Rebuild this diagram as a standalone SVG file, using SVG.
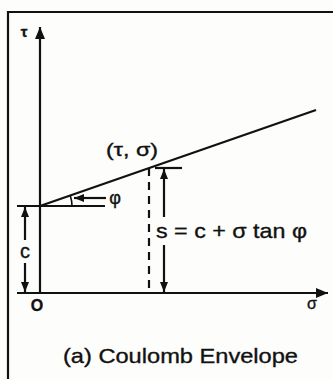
<svg xmlns="http://www.w3.org/2000/svg" width="333" height="379" viewBox="0 0 333 379">
  <style>
    .ln { stroke: #111; stroke-width: 2.2; fill: none; }
    .thin { stroke: #111; stroke-width: 1.6; fill: none; }
    .txt { font-family: "Liberation Sans", Arial, sans-serif; fill: #111; stroke: #111; stroke-width: 0.35; }
  </style>
  <defs>
    <marker id="ah" viewBox="0 0 10 8" refX="10" refY="4" markerWidth="10" markerHeight="8" markerUnits="userSpaceOnUse" orient="auto">
      <path d="M0,0 L10,4 L0,8 Z" fill="#111"/>
    </marker>
    <marker id="ahBig" viewBox="0 0 12 10" refX="12" refY="5" markerWidth="12" markerHeight="10" markerUnits="userSpaceOnUse" orient="auto">
      <path d="M0,0 L12,5 L0,10 Z" fill="#111"/>
    </marker>
  </defs>
  <rect width="333" height="379" fill="#fdfdfb"/>
  <g id="frame">
    <polyline class="ln" points="8,379 8,12 333,12"/>
  </g>
  <g id="axes">
    <line class="ln" x1="40" y1="293" x2="40" y2="27" marker-end="url(#ahBig)"/>
    <line class="ln" x1="17" y1="293" x2="328" y2="293" marker-end="url(#ahBig)"/>
    <text class="txt" x="24" y="37" font-size="15" font-weight="bold" text-anchor="middle">τ</text>
    <text class="txt" x="312" y="309" font-size="16" text-anchor="middle">σ</text>
    <text class="txt" x="37" y="311" font-size="16" font-weight="bold" text-anchor="middle">O</text>
  </g>
  <g id="envelope">
    <line class="ln" x1="40" y1="206" x2="316" y2="110" stroke-width="2.6"/>
    <line class="ln" x1="17" y1="206" x2="105" y2="206"/>
    <path class="thin" d="M72,206 A32,32 0 0 0 70.2,195.5"/>
    <text class="txt" x="132" y="156" font-size="18" text-anchor="middle" textLength="52" lengthAdjust="spacingAndGlyphs">(τ, σ)</text>
  </g>
  <g id="phi">
    <line class="ln" x1="106" y1="198" x2="74" y2="198" marker-end="url(#ah)"/>
    <text class="txt" x="115" y="204" font-size="18" text-anchor="middle">φ</text>
  </g>
  <g id="connectors">
    <line class="ln" x1="25" y1="240" x2="25" y2="207" marker-end="url(#ah)"/>
    <line class="ln" x1="25" y1="263" x2="25" y2="292" marker-end="url(#ah)"/>
    <line class="ln" x1="149" y1="168" x2="149" y2="293" stroke-dasharray="8,6"/>
    <line class="ln" x1="155" y1="168" x2="182" y2="168"/>
    <line class="ln" x1="164" y1="217" x2="164" y2="169" marker-end="url(#ah)"/>
    <line class="ln" x1="164" y1="245" x2="164" y2="292" marker-end="url(#ah)"/>
  </g>
  <g id="labels">
    <text class="txt" x="25" y="258" font-size="20" text-anchor="middle">c</text>
    <text class="txt" x="156" y="238" font-size="21" textLength="151" lengthAdjust="spacingAndGlyphs">s = c + σ tan φ</text>
    <text class="txt" x="63" y="363" font-size="21" textLength="235" lengthAdjust="spacingAndGlyphs">(a) Coulomb Envelope</text>
  </g>
</svg>
